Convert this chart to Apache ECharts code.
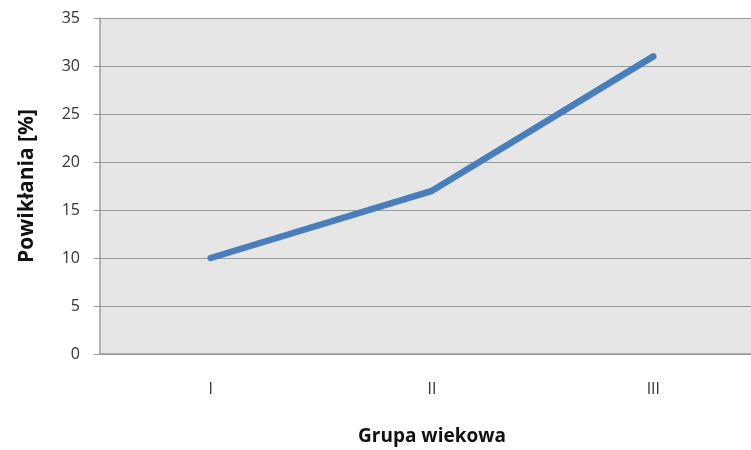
<!DOCTYPE html>
<html><head><meta charset="utf-8">
<script src="https://cdn.jsdelivr.net/npm/echarts@6/dist/echarts.min.js"></script>
<style>html,body{margin:0;padding:0;background:#fff}#c{width:751px;height:450px}</style>
</head><body><div id="c"></div>
<script>
const categories = ['I', 'II', 'III'];
const values = [10, 17, 31];
const yTicks = [0, 5, 10, 15, 20, 25, 30, 35];

const chart = echarts.init(document.getElementById('c'));
chart.setOption({
  animation: false,
  backgroundColor: '#ffffff',
  grid: { left: 100, top: 18, bottom: 96, width: 664, outerBoundsMode: 'none', containLabel: false,
          backgroundColor: '#e6e6e6', show: true, borderWidth: 0 },
  xAxis: {
    type: 'category', data: categories, boundaryGap: true,
    name: 'Grupa wiekowa', nameLocation: 'middle', nameGap: 73,
    nameTextStyle: { fontFamily: 'Open Sans', fontWeight: 'bold', fontSize: 19, color: '#111' },
    axisLine: { lineStyle: { color: '#9a9a9a', width: 1.5 } },
    axisTick: { show: false },
    axisLabel: { margin: 27, fontFamily: 'Open Sans', fontSize: 16, color: '#333' }
  },
  yAxis: {
    type: 'value', min: yTicks[0], max: yTicks[yTicks.length - 1], interval: 5,
    name: 'Powikłania [%]', nameLocation: 'middle', nameGap: 62,
    nameTextStyle: { fontFamily: 'Open Sans', fontWeight: 'bold', fontSize: 21, color: '#111' },
    axisLine: { show: true, lineStyle: { color: '#9a9a9a', width: 1.5 } },
    axisTick: { show: true, length: 6, lineStyle: { color: '#9a9a9a' } },
    axisLabel: { margin: 20, fontFamily: 'Open Sans', fontSize: 16, color: '#333' },
    splitLine: { lineStyle: { color: '#9a9a9a', width: 1.2 } }
  },
  series: [{
    type: 'line', data: values, symbol: 'none',
    lineStyle: { color: '#4a7ebb', width: 6.5, cap: 'round', join: 'round' }
  }]
});
</script></body></html>
